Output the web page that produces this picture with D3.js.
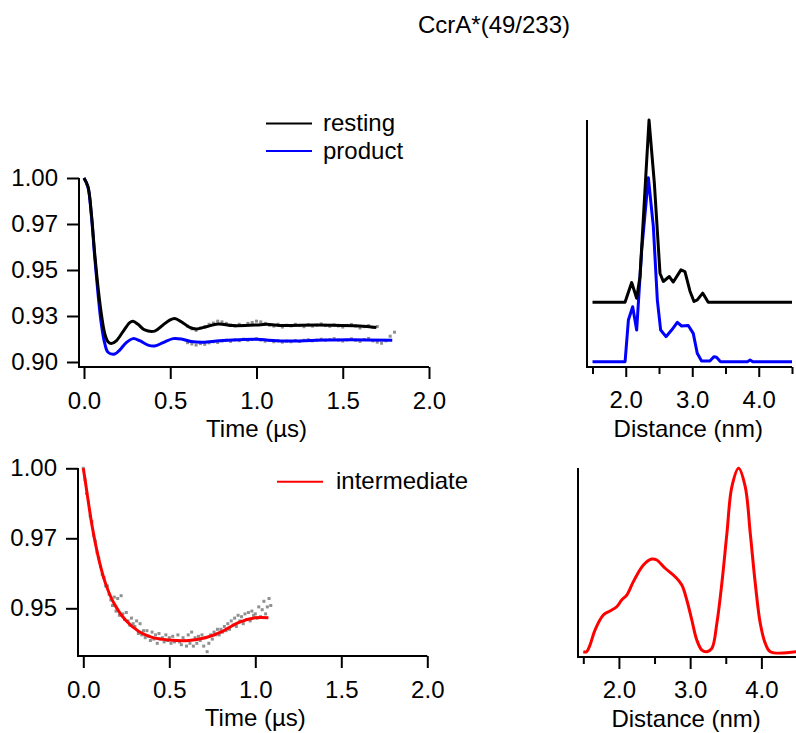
<!DOCTYPE html>
<html>
<head>
<meta charset="utf-8">
<script src="https://cdn.jsdelivr.net/npm/d3@7"></script>
<style>
body{margin:0;background:#fff;}
svg text{font-family:Arial,"Liberation Sans",sans-serif;font-size:24px;fill:#000;}
.tick line{stroke-width:2;}
.axisline{stroke:#000;stroke-width:2;fill:none;}
</style>
</head>
<body>
<script>
var title="CcrA*(49/233)";

// time traces, [t (us), echo]
var restingFit=[[0,1.0],[0.023,0.9953],[0.0425,0.9808],[0.062,0.959],[0.081,0.941],[0.1,0.9265],[0.12,0.9156],
	[0.139,0.911],[0.158,0.910],[0.187,0.9115],[0.226,0.9165],[0.265,0.9214],[0.284,0.9221],[0.313,0.9205],
	[0.352,0.9174],[0.41,0.9168],[0.458,0.9201],[0.497,0.9228],[0.526,0.9237],[0.564,0.9219],[0.613,0.9188],
	[0.651,0.918],[0.709,0.9192],[0.777,0.9207],[0.864,0.9198],[0.999,0.9201],[1.057,0.9205],[1.154,0.9198],
	[1.25,0.92],[1.443,0.92],[1.598,0.9196],[1.695,0.9188]];
var productFit=[[0,1.0],[0.023,0.9950],[0.0425,0.9800],[0.062,0.9572],[0.081,0.9373],[0.1,0.921],[0.12,0.9102],
	[0.139,0.9053],[0.178,0.9043],[0.207,0.9065],[0.245,0.9105],[0.284,0.9127],[0.323,0.9116],[0.371,0.9092],
	[0.41,0.9087],[0.458,0.9105],[0.516,0.9127],[0.564,0.9125],[0.622,0.9111],[0.69,0.9107],[0.786,0.9116],
	[0.902,0.9121],[0.999,0.9123],[1.154,0.9114],[1.347,0.9118],[1.54,0.9121],[1.787,0.9118]];

// raw data (grey), sampled every 0.025 us from 0.6 us
var dataStart=0.6, dataStep=0.025;
var restingData=[0.9195,0.9180,0.9172,0.9185,0.9190,0.9205,0.9212,0.9222,0.9218,0.9210,0.9200,0.9195,0.9205,
	0.9198,0.9210,0.9215,0.9222,0.9218,0.9210,0.9200,0.9195,0.9205,0.9190,0.9200,0.9196,0.9205,0.9198,0.9192,
	0.9203,0.9195,0.9200,0.9207,0.9198,0.9194,0.9202,0.9196,0.9190,0.9199,0.9204,0.9195,0.9185,0.9192,0.9198,
	0.9188,0.9193];
var productData=[0.9105,0.9098,0.9092,0.9100,0.9096,0.9104,0.9110,0.9106,0.9114,0.9118,0.9112,0.9120,0.9116,
	0.9124,0.9118,0.9122,0.9126,0.9119,0.9113,0.9117,0.9110,0.9115,0.9108,0.9113,0.9110,0.9117,0.9112,0.9118,
	0.9121,0.9115,0.9119,0.9124,0.9118,0.9122,0.9127,0.9119,0.9114,0.9120,0.9126,0.9118,0.9112,0.9122,0.9128,
	0.9115,0.9108,0.9102,0.9115,0.9140,0.9162];

var intermediateFit=[[0,1.0],[0.0135,0.9946],[0.052,0.9791],[0.091,0.9673],[0.129,0.9589],[0.178,0.9518],
	[0.245,0.9458],[0.323,0.9417],[0.4,0.9396],[0.497,0.9387],[0.613,0.9385],[0.709,0.9395],[0.806,0.9417],
	[0.902,0.9449],[0.999,0.9466],[1.076,0.9466]];
// raw data, every 0.01 us from 0
var intStep=0.01;
var intermediateData=[1.000,0.996,0.991,0.988,0.983,0.981,0.976,0.974,0.970,0.968,0.965,0.962,0.961,0.958,0.958,
	0.955,0.953,0.951,0.954,0.949,0.9535,0.9475,0.9545,0.948,0.946,0.9485,0.9455,0.944,0.9465,0.9445,0.9435,0.9455,
	0.941,0.9445,0.9405,0.942,0.9395,0.942,0.940,0.9385,0.9415,0.939,0.9405,0.9375,0.941,0.939,0.9395,0.938,0.9405,
	0.9385,0.9395,0.9375,0.940,0.938,0.9385,0.9405,0.938,0.937,0.9395,0.9385,0.9365,0.9405,0.9375,0.9415,0.9365,
	0.9395,0.9375,0.940,0.9385,0.9405,0.9365,0.9395,0.9345,0.9375,0.9405,0.939,0.9415,0.9405,0.9425,0.9405,0.9425,
	0.9415,0.9435,0.942,0.9445,0.9425,0.9455,0.944,0.9465,0.9435,0.9475,0.9455,0.947,0.9445,0.948,0.946,0.9485,
	0.9455,0.949,0.9475,0.948,0.9465,0.9505,0.947,0.9495,0.9525,0.948,0.9505,0.9535,0.951];

// distance distributions, [r (nm), P(r)]
var restingOffset=0.323;
var restingDist=[[1.5,0],[1.989,0],[2.089,0.107],[2.164,0.022],[2.214,0.139],[2.35,0.99],[2.43,0.647],
	[2.515,0.158],[2.565,0.113],[2.655,0.14],[2.715,0.11],[2.83,0.176],[2.89,0.167],[2.966,0.06],[3.026,0.004],
	[3.076,0.013],[3.157,0.05],[3.24,0.0],[4.5,0]];
var productDist=[[1.5,0],[1.99,0],[2.04,0.227],[2.104,0.299],[2.164,0.172],[2.24,0.607],[2.34,1.0],[2.415,0.734],
	[2.475,0.335],[2.525,0.172],[2.605,0.136],[2.69,0.172],[2.775,0.214],[2.84,0.194],[2.94,0.197],[3.015,0.154],
	[3.075,0.046],[3.14,0.004],[3.265,0.004],[3.325,0.027],[3.365,0.024],[3.425,0],[3.83,0],[3.87,0.009],[3.91,0],[4.5,0]];
var intermediateDist=[[1.5,0],[1.547,0],[1.594,0.036],[1.664,0.118],[1.781,0.2],[1.875,0.222],[1.969,0.245],
	[2.039,0.282],[2.11,0.309],[2.203,0.382],[2.344,0.473],[2.461,0.505],[2.531,0.5],[2.649,0.455],[2.789,0.409],
	[2.883,0.364],[2.953,0.282],[3.023,0.173],[3.093,0.064],[3.164,0.009],[3.234,0],[3.305,0.018],[3.375,0.155],
	[3.445,0.373],[3.516,0.645],[3.586,0.9],[3.68,1.0],[3.773,0.9],[3.844,0.645],[3.914,0.373],[3.984,0.155],
	[4.055,0.045],[4.125,0],[4.5,0]];

var timeTicks=[0,0.5,1.0,1.5,2.0];
var timeTickLabels=["0.0","0.5","1.0","1.5","2.0"];
var topYTicks=[1.0,0.975,0.95,0.925,0.9];
var topYTickLabels=["1.00","0.97","0.95","0.93","0.90"];
var botYTicks=[1.0,0.975,0.95];
var botYTickLabels=["1.00","0.97","0.95"];
var distTicks=[1.5,2.0,2.5,3.0,3.5,4.0,4.5];
var distMajor=[2.0,3.0,4.0];
var distLabels=["2.0","3.0","4.0"];

var svg=d3.select("body").append("svg").attr("width",796).attr("height",733);

svg.append("text").attr("x",494).attr("y",33).attr("text-anchor","middle").text(title);

function labelsOf(ticks,labels){
	return function(d){ return labels[ticks.indexOf(d)]; };
}

// one time-domain panel with Igor-like offset axes
function timePanel(x,y,yTicks,yLabels,axisY,axisX,yTop){
	svg.append("g").attr("transform","translate(0,"+axisY+")")
		.call(d3.axisBottom(x).tickValues(timeTicks).tickSize(12).tickPadding(13)
			.tickFormat(labelsOf(timeTicks,timeTickLabels)))
		.call(function(g){ g.select(".domain").remove(); });
	svg.append("g").attr("transform","translate("+axisX+",0)")
		.call(d3.axisLeft(y).tickValues(yTicks).tickSize(12).tickPadding(9)
			.tickFormat(labelsOf(yTicks,yLabels)))
		.call(function(g){ g.select(".domain").remove(); });
	svg.append("path").attr("class","axisline")
		.attr("d","M"+axisX+","+yTop+"V"+axisY+"H"+x.range()[1]);
	svg.append("text").attr("x",(x.range()[0]+x.range()[1])/2).attr("y",axisY+70)
		.attr("text-anchor","middle").text("Time (\u00b5s)");
}

function distPanel(x,y,axisY,axisX,yTop,xEnd,tick){
	svg.append("g").attr("transform","translate(0,"+axisY+")")
		.call(d3.axisBottom(x).tickValues(distTicks.filter(function(d){return distMajor.indexOf(d)<0;}))
			.tickSize(7).tickFormat(""))
		.call(function(g){ g.select(".domain").remove(); });
	svg.append("g").attr("transform","translate(0,"+axisY+")")
		.call(d3.axisBottom(x).tickValues(distMajor).tickSize(tick).tickPadding(41-tick-17)
			.tickFormat(labelsOf(distMajor,distLabels)))
		.call(function(g){ g.select(".domain").remove(); });
	svg.append("path").attr("class","axisline")
		.attr("d","M"+axisX+","+yTop+"V"+axisY+"H"+xEnd);
	svg.append("text").attr("x",(x(1.5)+x(4.5))/2 - 4).attr("y",axisY+70)
		.attr("text-anchor","middle").text("Distance (nm)");
}

function fitLine(x,y){
	return d3.line().x(function(d){return x(d[0]);}).y(function(d){return y(d[1]);}).curve(d3.curveCatmullRom);
}

function dots(data,start,step,x,y){
	svg.append("g").attr("fill","#909090").selectAll("rect").data(data).enter().append("rect")
		.attr("x",function(d,i){return x(start+i*step)-1.5;})
		.attr("y",function(d){return y(d)-1.5;})
		.attr("width",3).attr("height",3);
}

// top left: resting and product traces
var xT1=d3.scaleLinear().domain([0,2]).range([84,429]);
var yT1=d3.scaleLinear().domain([0.9,1.0]).range([362,178]);
timePanel(xT1,yT1,topYTicks,topYTickLabels,367,79,178);
dots(restingData,dataStart,dataStep,xT1,yT1);
dots(productData,dataStart,dataStep,xT1,yT1);
svg.append("path").datum(productFit).attr("d",fitLine(xT1,yT1))
	.attr("fill","none").attr("stroke","#0000ff").attr("stroke-width",3);
svg.append("path").datum(restingFit).attr("d",fitLine(xT1,yT1))
	.attr("fill","none").attr("stroke","#000").attr("stroke-width",3);

svg.append("line").attr("x1",266).attr("x2",312).attr("y1",123.5).attr("y2",123.5).attr("stroke","#000").attr("stroke-width",2);
svg.append("text").attr("x",323).attr("y",131).text("resting");
svg.append("line").attr("x1",266).attr("x2",312).attr("y1",151).attr("y2",151).attr("stroke","#0000ff").attr("stroke-width",2);
svg.append("text").attr("x",323).attr("y",159).text("product");

// top right: distance distributions
var xD1=d3.scaleLinear().domain([1.5,4.5]).range([592.5,792]);
var yD1=d3.scaleLinear().domain([0,1]).range([361.7,177.7]);
distPanel(xD1,yD1,367,587,120,792,10);
var distLine=function(x,y,off){
	return d3.line().x(function(d){return x(d[0]);}).y(function(d){return y(d[1]+off);});
};
svg.append("path").datum(productDist).attr("d",distLine(xD1,yD1,0))
	.attr("fill","none").attr("stroke","#0000ff").attr("stroke-width",3).attr("stroke-linejoin","round");
svg.append("path").datum(restingDist).attr("d",distLine(xD1,yD1,restingOffset))
	.attr("fill","none").attr("stroke","#000").attr("stroke-width",3).attr("stroke-linejoin","round");

// bottom left: intermediate trace
var xT2=d3.scaleLinear().domain([0,2]).range([83.3,427.3]);
var yT2=d3.scaleLinear().domain([0.95,1.0]).range([608.3,468.3]);
timePanel(xT2,yT2,botYTicks,botYTickLabels,656,78,468);
dots(intermediateData,0,intStep,xT2,yT2);
svg.append("path").datum(intermediateFit).attr("d",fitLine(xT2,yT2))
	.attr("fill","none").attr("stroke","#ff0000").attr("stroke-width",3);

svg.append("line").attr("x1",277).attr("x2",323).attr("y1",481.7).attr("y2",481.7).attr("stroke","#ff0000").attr("stroke-width",2);
svg.append("text").attr("x",336).attr("y",489).text("intermediate");

// bottom right: intermediate distance distribution
var xD2=d3.scaleLinear().domain([1.5,4.5]).range([583.3,797]);
var yD2=d3.scaleLinear().domain([0,1]).range([651.7,468.3]);
distPanel(xD2,yD2,657,578,468,796,12);
svg.append("path").datum(intermediateDist)
	.attr("d",d3.line().x(function(d){return xD2(d[0]);}).y(function(d){return yD2(d[1]);}).curve(d3.curveCatmullRom))
	.attr("fill","none").attr("stroke","#ff0000").attr("stroke-width",3);
</script>
</body>
</html>
